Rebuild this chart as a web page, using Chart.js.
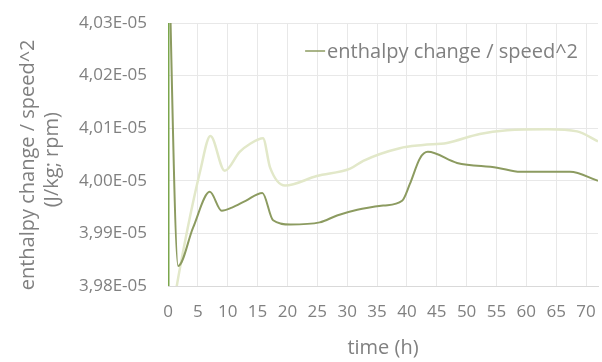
<!DOCTYPE html>
<html>
<head>
<meta charset="utf-8">
<script src="https://cdn.jsdelivr.net/npm/chart.js@4"></script>
<style>
  html, body { margin: 0; padding: 0; background: #fff; }
</style>
</head>
<body>
<canvas id="enthalpyChart" width="602" height="362"></canvas>
<script>
// time (h) and enthalpy change / speed^2 (J/kg; rpm)
const mainTime = [0, 1.7, 4.2, 7.0, 9.0, 10.7, 13.0, 15.8, 17.6, 20.5, 25.4, 28.3, 31.7, 36.1, 39.2, 40.5, 42.2, 43.5, 48.4, 55.1, 59.0, 67.3, 72.0];
const mainValues = [4.05e-5, 3.9838e-5, 3.9911e-5, 3.9979e-5, 3.9943e-5, 3.9949e-5, 3.9962e-5, 3.9977e-5, 3.9925e-5, 3.9917e-5, 3.9921e-5, 3.9934e-5, 3.9945e-5, 3.9953e-5, 3.9962e-5, 3.9994e-5, 4.0043e-5, 4.0055e-5, 4.0034e-5, 4.0025e-5, 4.0017e-5, 4.0017e-5, 4.0000e-5];

const paleTime = [0, 2.0, 5.4, 7.1, 9.5, 12.0, 13.7, 15.9, 17.1, 19.6, 24.9, 30.5, 32.7, 38.8, 42.7, 46.7, 52.2, 56.8, 63.5, 68.5, 72.0];
const paleValues = [3.97e-5, 3.9834e-5, 4.0019e-5, 4.0085e-5, 4.0019e-5, 4.0055e-5, 4.0070e-5, 4.0081e-5, 4.0025e-5, 3.9991e-5, 4.0009e-5, 4.0023e-5, 4.0038e-5, 4.0062e-5, 4.0068e-5, 4.0072e-5, 4.0089e-5, 4.0096e-5, 4.0098e-5, 4.0094e-5, 4.0075e-5];

// start-up spike at t = 0
const spikeTime = [0, 0];
const spikeValues = [3.98e-5, 4.03e-5];

const xTicks = [0, 5, 10, 15, 20, 25, 30, 35, 40, 45, 50, 55, 60, 65, 70];
const yTicks = [3.98e-5, 3.99e-5, 4.00e-5, 4.01e-5, 4.02e-5, 4.03e-5];

const textGrey = '#808080';
const font = '"Open Sans", sans-serif';

function pairs(xs, ys) {
  return xs.map((x, i) => ({ x: x, y: ys[i] }));
}

function sci(v) {
  return (v * 1e5).toFixed(2).replace('.', ',') + 'E-05';
}

// legend drawn inside the plot, top right
const insideLegend = {
  id: 'insideLegend',
  afterDatasetsDraw(chart) {
    const { ctx, chartArea } = chart;
    const ds = chart.data.datasets[0];
    ctx.save();
    ctx.font = '20px ' + font;
    const w = ctx.measureText(ds.label).width;
    const textX = chartArea.right - 20 - w;
    const y = chartArea.top + 28;
    ctx.strokeStyle = ds.borderColor;
    ctx.lineWidth = 1.5;
    ctx.beginPath();
    ctx.moveTo(textX - 22, y);
    ctx.lineTo(textX - 2, y);
    ctx.stroke();
    ctx.fillStyle = textGrey;
    ctx.textBaseline = 'middle';
    ctx.fillText(ds.label, textX, y + 1);
    ctx.restore();
  }
};

new Chart(document.getElementById('enthalpyChart'), {
  type: 'line',
  data: {
    datasets: [
      {
        label: 'enthalpy change / speed^2',
        data: pairs(mainTime, mainValues),
        borderColor: '#8c9b60',
        borderWidth: 2,
        pointRadius: 0,
        cubicInterpolationMode: 'monotone',
        order: 1
      },
      {
        label: 'pale',
        data: pairs(paleTime, paleValues),
        borderColor: '#e2e8c9',
        borderWidth: 2.5,
        pointRadius: 0,
        cubicInterpolationMode: 'monotone',
        order: 2
      },
      {
        label: 'spike',
        data: pairs(spikeTime, spikeValues),
        borderColor: '#7ba64c',
        borderWidth: 3,
        pointRadius: 0,
        order: 0
      }
    ]
  },
  options: {
    responsive: false,
    animation: false,
    layout: { autoPadding: false, padding: { top: 23, right: 4, left: 0, bottom: 0 } },
    plugins: {
      legend: { display: false },
      tooltip: { enabled: false }
    },
    scales: {
      x: {
        type: 'linear',
        min: 0,
        max: 72,
        afterBuildTicks: (scale) => { scale.ticks = xTicks.map(v => ({ value: v })); },
        afterFit: (scale) => {
          scale.height = 76;
          scale.paddingLeft = 0;
          scale.paddingRight = 0;
        },
        grid: { color: '#e8e8e8', drawTicks: false },
        border: { color: '#d9d9d9' },
        ticks: { color: textGrey, font: { family: font, size: 17 }, padding: 16, maxRotation: 0 },
        title: {
          display: true,
          text: 'time (h)',
          color: textGrey,
          font: { family: font, size: 20 },
          padding: { top: 0, bottom: 2 }
        }
      },
      y: {
        min: 3.98e-5,
        max: 4.03e-5,
        afterBuildTicks: (scale) => { scale.ticks = yTicks.map(v => ({ value: v })); },
        afterFit: (scale) => {
          scale.width = 168;
          scale.paddingTop = 0;
          scale.paddingBottom = 0;
        },
        grid: { color: '#e8e8e8', drawTicks: false },
        border: { display: false },
        ticks: { color: textGrey, font: { family: font, size: 17 }, padding: 21, callback: sci },
        title: {
          display: true,
          text: ['enthalpy change / speed^2\u00a0\u00a0\u00a0\u00a0', '(J/kg; rpm)\u00a0\u00a0'],
          color: textGrey,
          font: { family: font, size: 20, lineHeight: 1.2 },
          padding: { top: 16, bottom: 0 }
        }
      }
    }
  },
  plugins: [insideLegend]
});
</script>
</body>
</html>
